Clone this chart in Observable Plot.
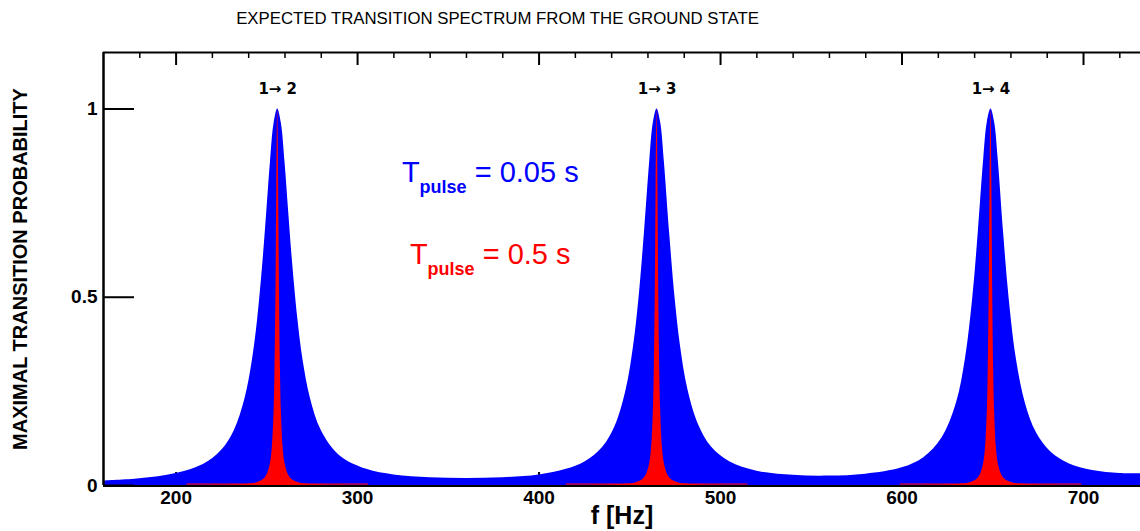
<!DOCTYPE html>
<html><head><meta charset="utf-8">
<script src="https://cdn.jsdelivr.net/npm/d3@7"></script>
<script src="https://cdn.jsdelivr.net/npm/@observablehq/plot@0.6"></script>
<style>body{margin:0;background:#fff;overflow:hidden} svg{display:block}</style>
</head><body><div id="chart"></div>
<script>
// ---- data ----
const title = "EXPECTED TRANSITION SPECTRUM FROM THE GROUND STATE";
const xLabel = "f [Hz]";
const yLabel = "MAXIMAL TRANSITION PROBABILITY";
const xTicks = [200, 300, 400, 500, 600, 700];
const xMinorTicks = [180, 220, 240, 260, 280, 320, 340, 360, 380, 420, 440, 460, 480, 520, 540, 560, 580, 620, 640, 660, 680, 720];
const yTicks = [0, 0.5, 1];
const transitions = ["1\u2192 2", "1\u2192 3", "1\u2192 4"];
const peakFreqs = [256, 465, 649];
const pulseDurations = ["0.05 s", "0.5 s"];
const seriesColors = ["#0000ff", "#ff0000"];

// T_pulse = 0.05 s (blue): f [Hz] and probability
const blueFreq = [160,180,200,215,225,232,238,242,245,248,250,252,254,256,258,260,262,264,267,270,274,280,290,305,320,340,360,380,400,415,425,435,442,448,452,455,458,461,463,465,467,469,472,475,478,482,488,495,505,520,540,560,580,600,612,622,630,635,639,642,645,647,649,651,653,656,659,663,668,674,682,692,705,720,731.4];
const blueProb = [0.012,0.018,0.032,0.056,0.093,0.145,0.231,0.331,0.444,0.602,0.729,0.859,0.962,1.0,0.962,0.859,0.729,0.602,0.446,0.331,0.232,0.146,0.080,0.043,0.028,0.0205,0.0185,0.0206,0.028,0.043,0.062,0.101,0.158,0.254,0.367,0.494,0.667,0.862,0.964,1.0,0.964,0.862,0.667,0.495,0.368,0.255,0.160,0.102,0.063,0.038,0.027,0.025,0.030,0.047,0.074,0.126,0.219,0.338,0.499,0.671,0.866,0.965,1.0,0.965,0.866,0.669,0.497,0.336,0.218,0.141,0.089,0.058,0.040,0.032,0.031];

// T_pulse = 0.5 s (red): profile around each transition (offset in Hz)
const redOffset = [-50,-30,-20,-12,-8,-6,-4,-3,-2,-1.5,-1,-0.75,-0.5,-0.25,0,0.25,0.5,0.75,1,1.5,2,3,4,6,8,12,20,30,50];
const redProb = [0.0004,0.0011,0.0025,0.0069,0.0154,0.027,0.0588,0.1,0.2,0.3077,0.5,0.64,0.8,0.941,1,0.941,0.8,0.64,0.5,0.3077,0.2,0.1,0.0588,0.027,0.0154,0.0069,0.0025,0.0011,0.0004];

// ---- tables ----
const blueRows = blueFreq.map((f, i) => ({f, p: blueProb[i]}));
const redRows = peakFreqs.flatMap((c, k) => redOffset.map((o, i) => ({peak: k, f: c + o, p: redProb[i]})));
const peakRows = peakFreqs.map((f, i) => ({f, label: transitions[i]}));

const W = 1140, H = 531, mL = 103, mR = 0, mT = 52, mB = 46;
const innerH = H - mT - mB, innerW = W - mL - mR;
const font = "'Liberation Sans', Arial, Helvetica, sans-serif";

const chart = Plot.plot({
  width: W, height: H,
  marginLeft: mL, marginRight: mR, marginTop: mT, marginBottom: mB,
  style: {fontFamily: font, background: "#fff", color: "#000", overflow: "visible"},
  x: {domain: [160, 731.4], axis: null},
  y: {domain: [0, 1.15], axis: null},
  marks: [
    // bottom ticks (hidden under fill, as in original)
    Plot.ruleX(xTicks, {insetTop: innerH - 13, stroke: "#000", strokeWidth: 2}),
    Plot.ruleX(xMinorTicks, {insetTop: innerH - 6, stroke: "#000", strokeWidth: 1.5}),
    // areas
    Plot.areaY(blueRows, {x: "f", y: "p", fill: seriesColors[0], curve: "catmull-rom"}),
    Plot.areaY(redRows, {x: "f", y: "p", z: "peak", fill: seriesColors[1], curve: "catmull-rom"}),
    Plot.ruleY(peakFreqs, {y: 0, x1: d => d - 50, x2: d => d + 50, stroke: seriesColors[1], strokeWidth: 1, dy: -1.5}),
    // frame
    Plot.ruleX([160], {stroke: "#000", strokeWidth: 2.5}),
    Plot.ruleY([1.15], {stroke: "#000", strokeWidth: 2}),
    Plot.ruleY([0], {stroke: "#000", strokeWidth: 2, dy: 0.5}),
    // top ticks
    Plot.ruleX(xTicks, {insetBottom: innerH - 13, stroke: "#000", strokeWidth: 2}),
    Plot.ruleX(xMinorTicks, {insetBottom: innerH - 6, stroke: "#000", strokeWidth: 1.5}),
    // y ticks
    Plot.ruleY(yTicks, {insetRight: innerW - 31, stroke: "#000", strokeWidth: 2}),
    // tick labels
    Plot.axisX({ticks: xTicks, tickSize: 0, tickPadding: 5, fontSize: 19, fontWeight: "bold", label: null, tickFormat: d => String(d)}),
    Plot.axisY({ticks: yTicks, tickSize: 0, tickPadding: 6, fontSize: 19, fontWeight: "bold", label: null, tickFormat: d => String(d)}),
    // axis titles
    Plot.text([xLabel], {frameAnchor: "bottom", dy: 30, fontSize: 25, fontWeight: "bold", textAnchor: "middle", lineAnchor: "middle"}),
    Plot.text([yLabel], {frameAnchor: "left", dx: -83, rotate: -90, fontSize: 20, fontWeight: "bold", textAnchor: "middle", lineAnchor: "middle"}),
    Plot.text([title], {frameAnchor: "top-left", dx: 394, dy: -33.5, fontSize: 16.8, textAnchor: "middle", lineAnchor: "middle"}),
    // transition labels
    Plot.text(peakRows, {x: "f", y: 1, text: "label", dy: -20, fontSize: 15, fontWeight: "bold", fontFamily: "'DejaVu Sans', sans-serif", lineAnchor: "middle"})
  ]
});

// legend (T_pulse annotations) placed through the plot's scales
const sx = chart.scale("x"), sy = chart.scale("y");
const legendPos = [{x: 324.7, y: 0.804}, {x: 329.1, y: 0.587}];
const lg = d3.select(chart).append("g").attr("font-family", font).attr("text-anchor", "start");
pulseDurations.forEach((d, i) => {
  const t = lg.append("text")
    .attr("x", sx.apply(legendPos[i].x))
    .attr("y", sy.apply(legendPos[i].y))
    .attr("fill", seriesColors[i])
    .attr("font-size", 29)
    .attr("text-anchor", "start")
    .attr("xml:space", "preserve");
  t.append("tspan").text("T");
  t.append("tspan").attr("dy", 11).attr("font-size", 18).attr("font-weight", "bold").text("pulse");
  t.append("tspan").attr("dy", -11).text(" = " + d);
});
document.getElementById("chart").appendChild(chart);
</script>
</body></html>
